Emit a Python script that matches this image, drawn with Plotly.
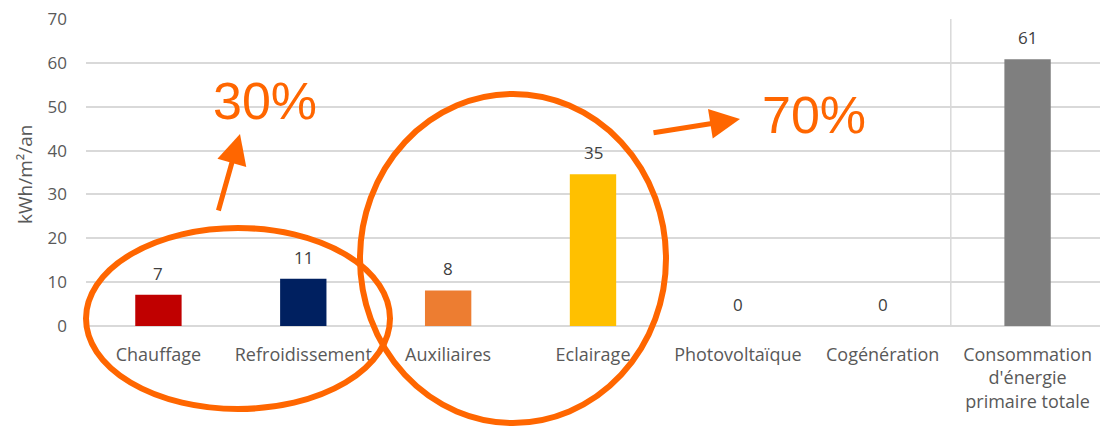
import plotly.graph_objects as go

categories = ["Chauffage", "Refroidissement", "Auxiliaires", "Eclairage",
              "Photovoltaïque", "Cogénération",
              "Consommation<br>d'énergie<br>primaire totale"]
values = [7.1, 10.8, 8.1, 34.6, 0, 0, 60.8]
bar_colors = ["#C00000", "#002060", "#ED7D31", "#FFC000", "#7F7F7F", "#7F7F7F", "#7F7F7F"]
y_ticks = [0, 10, 20, 30, 40, 50, 60, 70]
y_title = "kWh/m²/an"
pct_left = "30%"
pct_right = "70%"

W, H = 1114, 428
L, R, T, B = 86, 14, 19, 102
PW, PH = W - L - R, H - T - B

def px(x):
    return (x - L) / PW

def py(y):
    return (H - B - y) / PH

ORANGE = "#FF6600"
TXT = "#595959"
FONT = "Open Sans"

xs = list(range(len(categories)))

fig = go.Figure()
fig.add_trace(go.Bar(
    x=xs, y=values,
    marker=dict(color=bar_colors, line=dict(width=0)),
    cliponaxis=False, width=0.32,
))

shapes = [
    dict(type="line", xref="x", yref="paper", x0=5.47, x1=5.47, y0=0, y1=1,
         line=dict(color="#D9D9D9", width=1.5), layer="below"),
    dict(type="circle", xref="paper", yref="paper",
         x0=px(86), x1=px(390), y0=py(409), y1=py(228),
         line=dict(color=ORANGE, width=6)),
    dict(type="circle", xref="paper", yref="paper",
         x0=px(360), x1=px(666), y0=py(423), y1=py(94),
         line=dict(color=ORANGE, width=6)),
]

annotations = []
for xi, v in zip(xs, values):
    annotations.append(dict(text=f"{v:.0f}", x=xi, y=v, xref="x", yref="y",
                            xanchor="center", yanchor="bottom", yshift=8,
                            showarrow=False,
                            font=dict(family=FONT, size=17, color="#404040")))

annotations += [
    dict(text=y_title, textangle=-90, xref="paper", yref="paper",
         x=px(25), y=py(174), xanchor="center", yanchor="middle", showarrow=False,
         font=dict(family=FONT, size=19, color=TXT)),
    dict(text=pct_left, xref="paper", yref="paper", x=px(265), y=py(101),
         xanchor="center", yanchor="middle",
         showarrow=False, font=dict(family="Liberation Sans", size=52, color=ORANGE)),
    dict(text=pct_right, xref="paper", yref="paper", x=px(814), y=py(115),
         xanchor="center", yanchor="middle",
         showarrow=False, font=dict(family="Liberation Sans", size=52, color=ORANGE)),
    dict(text="", xref="paper", yref="paper", x=px(240), y=py(134),
         ax=-22, ay=78, showarrow=True, arrowhead=2, arrowsize=1.2,
         arrowwidth=5, arrowcolor=ORANGE, standoff=0),
    dict(text="", xref="paper", yref="paper", x=px(740), y=py(119),
         ax=-88, ay=14, showarrow=True, arrowhead=2, arrowsize=1.2,
         arrowwidth=5, arrowcolor=ORANGE, standoff=0),
]

fig.update_layout(
    width=W, height=H,
    margin=dict(l=L, r=R, t=T, b=B, pad=0, autoexpand=False),
    paper_bgcolor="white", plot_bgcolor="white",
    showlegend=False,
    shapes=shapes, annotations=annotations,
    font=dict(family=FONT, size=17, color=TXT),
    xaxis=dict(tickmode="array", tickvals=xs, ticktext=categories,
               range=[-0.5, len(categories) - 0.5], automargin=False,
               showgrid=False, zeroline=False, showline=False, ticks="",
               ticklabelstandoff=16,
               tickfont=dict(family=FONT, size=18, color=TXT)),
    yaxis=dict(range=[0, 70], tickvals=y_ticks, showgrid=True, automargin=False,
               gridcolor="#D9D9D9", gridwidth=1.5, zeroline=True,
               zerolinecolor="#D9D9D9", zerolinewidth=1.5,
               ticks="", ticklabelstandoff=18,
               tickfont=dict(family=FONT, size=17, color=TXT)),
)

fig.write_html("out.html")
